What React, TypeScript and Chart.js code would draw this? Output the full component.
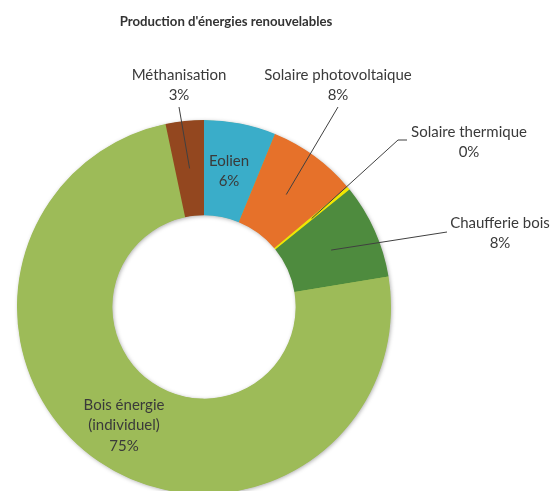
import React, { useEffect, useRef } from "react";
import { Chart, registerables } from "chart.js";

Chart.register(...registerables);

const title = "Production d'énergies renouvelables";
const categories = [
  "Eolien",
  "Solaire photovoltaique",
  "Solaire thermique",
  "Chaufferie bois",
  "Bois énergie (individuel)",
  "Méthanisation",
];
const values = [6.2, 7.7, 0.3, 8.2, 74.3, 3.3];
const percentLabels = ["6%", "8%", "0%", "8%", "75%", "3%"];
const labelLines = [
  ["Eolien"],
  ["Solaire photovoltaique"],
  ["Solaire thermique"],
  ["Chaufferie bois"],
  ["Bois énergie", "(individuel)"],
  ["Méthanisation"],
];
const colors = ["#3AADC9", "#E6712A", "#F2E600", "#4E8B3E", "#9DBB58", "#93471F"];

// annotation layout (text centres and leader end points)
const labelPos: [number, number][] = [
  [229, 161],
  [338, 75],
  [469, 132],
  [500, 223],
  [124, 405],
  [179, 75],
];
const leaderPts: ([number, number][] | null)[] = [
  null,
  [[338, 107]],
  [[398, 140], [407, 140]],
  [[447, 232]],
  null,
  [[179, 107]],
];

const LABEL_FONT = '15px Lato, "Open Sans", sans-serif';
const LINE_H = 20.5;

export default function App() {
  const ref = useRef<HTMLCanvasElement>(null);
  useEffect(() => {
    document.body.style.margin = "0";
    const canvas = ref.current;
    if (!canvas) return;

    const ringShadow = {
      id: "ringShadow",
      beforeDatasetsDraw(chart: any) {
        const arc = chart.getDatasetMeta(0).data[0];
        if (!arc) return;
        const { x, y, outerRadius, innerRadius } = arc.getProps(["x", "y", "outerRadius", "innerRadius"], true);
        const ctx = chart.ctx;
        ctx.save();
        ctx.shadowColor = "rgba(0,0,0,0.35)";
        ctx.shadowBlur = 4;
        ctx.shadowOffsetX = 1;
        ctx.shadowOffsetY = 1;
        ctx.beginPath();
        ctx.arc(x, y, outerRadius - 0.5, 0, Math.PI * 2);
        ctx.arc(x, y, innerRadius + 0.5, 0, Math.PI * 2, true);
        ctx.fillStyle = colors[4];
        ctx.fill();
        ctx.restore();
      },
    };

    const labelsPlugin = {
      id: "labels",
      afterDatasetsDraw(chart: any) {
        const ctx = chart.ctx;
        const meta = chart.getDatasetMeta(0);
        ctx.save();
        // title
        ctx.font = 'bold 13.2px Lato, "Open Sans", sans-serif';
        ctx.fillStyle = "#333333";
        ctx.textAlign = "center";
        ctx.textBaseline = "middle";
        ctx.fillText(title, 226, 22);

        meta.data.forEach((arc: any, i: number) => {
          const pts = leaderPts[i];
          if (pts) {
            const p = arc.tooltipPosition(true);
            ctx.beginPath();
            ctx.moveTo(p.x, p.y);
            pts.forEach(([px, py]) => ctx.lineTo(px, py));
            ctx.strokeStyle = "#404040";
            ctx.lineWidth = 1;
            ctx.stroke();
          }
          const [tx, ty] = labelPos[i];
          const lines = [...labelLines[i], percentLabels[i]];
          ctx.font = LABEL_FONT;
          ctx.fillStyle = "#3a3a3a";
          ctx.textAlign = "center";
          ctx.textBaseline = "middle";
          lines.forEach((t, k) => ctx.fillText(t, tx, ty + k * LINE_H));
        });
        ctx.restore();
      },
    };

    const chart = new Chart(canvas, {
      type: "doughnut",
      data: {
        labels: categories,
        datasets: [
          {
            data: values,
            backgroundColor: colors,
            borderWidth: 0,
            clip: false,
          } as any,
        ],
      },
      options: {
        responsive: false,
        maintainAspectRatio: false,
        animation: false,
        radius: 187,
        cutout: "49%",
        layout: { padding: { left: 0, right: 147, top: 123, bottom: 0 } },
        plugins: {
          legend: { display: false },
          tooltip: { enabled: false },
          title: { display: false },
        },
      } as any,
      plugins: [ringShadow, labelsPlugin],
    });
    return () => chart.destroy();
  }, []);

  return (
    <div style={{ width: 555, height: 491, overflow: "hidden", background: "#fff" }}>
      <canvas ref={ref} width={555} height={491} style={{ display: "block" }} />
    </div>
  );
}
